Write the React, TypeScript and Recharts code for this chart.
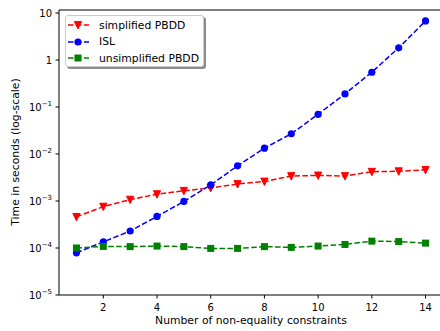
import { Legend, Line, LineChart, ReferenceLine, XAxis, YAxis } from "recharts"

const constraints = [1, 2, 3, 4, 5, 6, 7, 8, 9, 10, 11, 12, 13, 14]
const simplifiedPbdd = [
  0.00046, 0.00076, 0.00107, 0.0014, 0.00165, 0.0019, 0.0023, 0.0026, 0.0034, 0.0035, 0.0034,
  0.0042, 0.0043, 0.0046,
]
const isl = [
  0.000079, 0.000135, 0.00023, 0.00047, 0.00098, 0.0022, 0.0056, 0.0133, 0.027, 0.07, 0.19, 0.55,
  1.82, 6.8,
]
const unsimplifiedPbdd = [
  0.0001, 0.000108, 0.000107, 0.00011, 0.000107, 0.000098, 0.000098, 0.000107, 0.000103, 0.00011,
  0.000119, 0.00014, 0.000137, 0.000127,
]
const yTicks = [1e-5, 1e-4, 1e-3, 1e-2, 1e-1, 1, 10]
const xTicks = [2, 4, 6, 8, 10, 12, 14]
const Y_TOP = 11.6

const data = constraints.map((n, i) => ({
  n,
  simplified: simplifiedPbdd[i],
  isl: isl[i],
  unsimplified: unsimplifiedPbdd[i],
}))

const FONT = "DejaVu Sans"
const DASH = "5.55 2.4"
const LABEL_SIZE = 10.8

const marker = (kind: string, color: string, cx: number, cy: number, key?: any) => {
  if (kind === "v")
    return (
      <path
        key={key}
        d={`M${cx - 3.6},${cy - 3.4} L${cx + 3.6},${cy - 3.4} L${cx},${cy + 4} Z`}
        fill={color}
        stroke={color}
        strokeWidth={1}
        strokeLinejoin="miter"
      />
    )
  if (kind === "s")
    return <rect key={key} x={cx - 3.5} y={cy - 3.5} width={7} height={7} fill={color} />
  return <circle key={key} cx={cx} cy={cy} r={3.6} fill={color} />
}

const series = [
  { key: "simplified", name: "simplified PBDD", color: "#ff0000", kind: "v" },
  { key: "isl", name: "ISL", color: "#0000ff", kind: "o" },
  { key: "unsimplified", name: "unsimplified PBDD", color: "#008000", kind: "s" },
]

const YTick = ({ x, y, payload }: any) => {
  const e = Math.round(Math.log10(payload.value))
  return (
    <text x={x} y={y} dy="0.35em" textAnchor="end" fontSize={10} fontFamily={FONT} fill="#000">
      {e === 0 ? "1" : e === 1 ? "10" : (
        <>
          <tspan>10</tspan>
          <tspan dy={-4.5} fontSize={7}>{`\u2212${-e}`}</tspan>
        </>
      )}
    </text>
  )
}

const LegendBox = () => (
  <div
    style={{
      width: 137,
      height: 50,
      background: "#fff",
      border: "1px solid #cccccc",
      borderRadius: 3,
      boxShadow: "2px 2px 0 #8c8c8c",
      fontFamily: FONT,
      fontSize: LABEL_SIZE,
    }}
  >
    {series.map((s, i) => (
      <div key={s.key} style={{ display: "flex", alignItems: "center", height: 16.5, marginTop: i === 0 ? 1 : 0 }}>
        <svg width={30} height={12} style={{ marginLeft: 1 }}>
          <line x1={1} y1={6} x2={22} y2={6} stroke={s.color} strokeWidth={1.5} strokeDasharray={DASH} />
          {marker(s.kind, s.color, 11, 6)}
        </svg>
        <span style={{ marginLeft: 2, color: "#000", whiteSpace: "nowrap" }}>{s.name}</span>
      </div>
    ))}
  </div>
)

export default function App() {
  return (
    <div style={{ position: "absolute", left: 0, top: 0, width: 440, height: 331, overflow: "hidden", background: "#fff" }}>
      <LineChart width={443} height={331} data={data} margin={{ top: 10, right: 0, bottom: 0, left: 0 }}>
        <XAxis
          dataKey="n"
          type="number"
          domain={[0.35, 14.65]}
          ticks={xTicks}
          allowDataOverflow
          height={36}
          stroke="#000"
          tickSize={3.5}
          tickMargin={5}
          tick={{ fontSize: 10, fontFamily: FONT, fill: "#000" }}
          label={{
            value: "Number of non-equality constraints",
            position: "insideBottom",
            offset: 7,
            fontSize: LABEL_SIZE,
            fontFamily: FONT,
            fill: "#000",
          }}
        />
        <YAxis
          scale="log"
          domain={[1e-5, Y_TOP]}
          ticks={yTicks}
          allowDataOverflow
          width={59}
          stroke="#000"
          tickSize={3.5}
          tickMargin={3.5}
          tick={<YTick />}
          label={{
            content: () => (
              <text
                x={15}
                y={152}
                transform="rotate(-90 15 152)"
                textAnchor="middle"
                dominantBaseline="central"
                fontSize={LABEL_SIZE}
                fontFamily={FONT}
                fill="#000"
              >
                Time in seconds (log-scale)
              </text>
            ),
          }}
        />
        <ReferenceLine y={Y_TOP} stroke="#000" strokeWidth={1} />
        {series.map((s) => (
          <Line
            key={s.key}
            dataKey={s.key}
            name={s.name}
            stroke={s.color}
            strokeWidth={1.5}
            strokeDasharray={DASH}
            isAnimationActive={false}
            dot={(p: any) => marker(s.kind, s.color, p.cx, p.cy, `${s.key}-${p.index}`)}
            activeDot={false}
          />
        ))}
        <Legend
          layout="vertical"
          align="center"
          verticalAlign="middle"
          wrapperStyle={{ left: 65, top: 15, width: "auto" }}
          content={<LegendBox />}
        />
      </LineChart>
    </div>
  )
}
